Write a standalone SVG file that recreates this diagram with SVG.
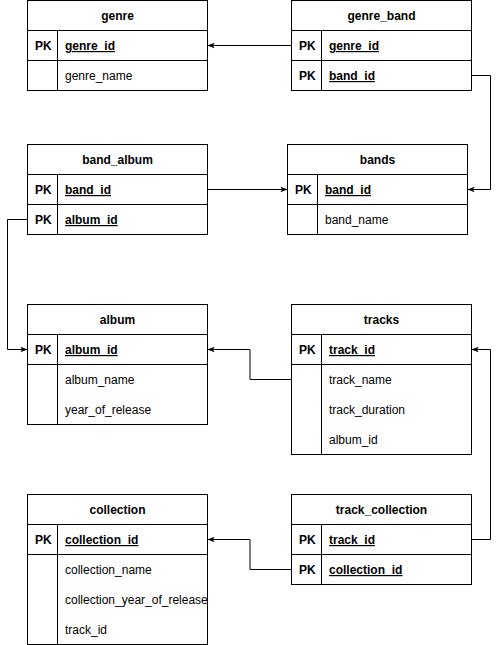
<svg xmlns="http://www.w3.org/2000/svg" width="501" height="645" viewBox="0 0 501 645">
<style>
.box{fill:#fff;stroke:#000;stroke-width:1}
.ln{fill:none;stroke:#000;stroke-width:1}
.h{font-family:"Liberation Sans",Arial,sans-serif;font-size:12px;font-weight:bold;text-anchor:middle;fill:#000}
.pk{font-family:"Liberation Sans",Arial,sans-serif;font-size:12px;font-weight:bold;fill:#000}
.k{font-family:"Liberation Sans",Arial,sans-serif;font-size:12px;font-weight:bold;text-decoration:underline;fill:#000}
.t{font-family:"Liberation Sans",Arial,sans-serif;font-size:12px;fill:#000}
.c{fill:none;stroke:#000;stroke-width:1;marker-end:url(#arr)}
</style>
<defs>
<marker id="arr" viewBox="0 0 10 8" refX="9.5" refY="4" markerWidth="7" markerHeight="6" orient="auto" markerUnits="userSpaceOnUse">
<path d="M0,0 L10,4 L0,8 L2.5,4 z" fill="#000"/>
</marker>
<clipPath id="clipc"><rect x="27.5" y="494.5" width="180" height="150"/></clipPath>
</defs>
<g id="connectors">
<path class="c" d="M291.5,45.5 H208"/>
<path class="c" d="M471.5,75.5 H490.5 V189.5 H468"/>
<path class="c" d="M207.5,189.5 H287"/>
<path class="c" d="M27.5,219.5 H7.5 V349.5 H27"/>
<path class="c" d="M291.5,379.5 H250 V349.5 H208"/>
<path class="c" d="M471.5,539.5 H490.5 V349.5 H472"/>
<path class="c" d="M291.5,569.5 H250 V539.5 H208"/>
</g>
<g id="genre">
<rect class="box" x="27.5" y="0.5" width="180" height="90"/>
<path class="ln" d="M27.5,30.5 H207.5 M27.5,60.5 H207.5 M57.5,30.5 V90.5"/>
<text class="h" x="117.5" y="20">genre</text>
<text class="pk" x="35" y="50">PK</text>
<text class="k" x="65" y="50">genre_id</text>
<text class="t" x="65" y="80">genre_name</text>
</g>
<g id="genre_band">
<rect class="box" x="291.5" y="0.5" width="180" height="90"/>
<path class="ln" d="M291.5,30.5 H471.5 M291.5,60.5 H471.5 M321.5,30.5 V90.5"/>
<text class="h" x="381.5" y="20">genre_band</text>
<text class="pk" x="299" y="50">PK</text>
<text class="k" x="329" y="50">genre_id</text>
<text class="pk" x="299" y="80">PK</text>
<text class="k" x="329" y="80">band_id</text>
</g>
<g id="band_album">
<rect class="box" x="27.5" y="144.5" width="180" height="90"/>
<path class="ln" d="M27.5,174.5 H207.5 M27.5,204.5 H207.5 M57.5,174.5 V234.5"/>
<text class="h" x="117.5" y="164">band_album</text>
<text class="pk" x="35" y="194">PK</text>
<text class="k" x="65" y="194">band_id</text>
<text class="pk" x="35" y="224">PK</text>
<text class="k" x="65" y="224">album_id</text>
</g>
<g id="bands">
<rect class="box" x="287.5" y="144.5" width="180" height="90"/>
<path class="ln" d="M287.5,174.5 H467.5 M287.5,204.5 H467.5 M317.5,174.5 V234.5"/>
<text class="h" x="377.5" y="164">bands</text>
<text class="pk" x="295" y="194">PK</text>
<text class="k" x="325" y="194">band_id</text>
<text class="t" x="325" y="224">band_name</text>
</g>
<g id="album">
<rect class="box" x="27.5" y="304.5" width="180" height="120"/>
<path class="ln" d="M27.5,334.5 H207.5 M27.5,364.5 H207.5 M57.5,334.5 V424.5"/>
<text class="h" x="117.5" y="324">album</text>
<text class="pk" x="35" y="354">PK</text>
<text class="k" x="65" y="354">album_id</text>
<text class="t" x="65" y="384">album_name</text>
<text class="t" x="65" y="414">year_of_release</text>
</g>
<g id="tracks">
<rect class="box" x="291.5" y="304.5" width="180" height="150"/>
<path class="ln" d="M291.5,334.5 H471.5 M291.5,364.5 H471.5 M321.5,334.5 V454.5"/>
<text class="h" x="381.5" y="324">tracks</text>
<text class="pk" x="299" y="354">PK</text>
<text class="k" x="329" y="354">track_id</text>
<text class="t" x="329" y="384">track_name</text>
<text class="t" x="329" y="414">track_duration</text>
<text class="t" x="329" y="444">album_id</text>
</g>
<g id="collection">
<rect class="box" x="27.5" y="494.5" width="180" height="150"/>
<path class="ln" d="M27.5,524.5 H207.5 M27.5,554.5 H207.5 M57.5,524.5 V644.5"/>
<text class="h" x="117.5" y="514">collection</text>
<text class="pk" x="35" y="544">PK</text>
<text class="k" x="65" y="544">collection_id</text>
<text class="t" x="65" y="574">collection_name</text>
<text class="t" x="65" y="604" clip-path="url(#clipc)">collection_year_of_release</text>
<text class="t" x="65" y="634">track_id</text>
</g>
<g id="track_collection">
<rect class="box" x="291.5" y="494.5" width="180" height="90"/>
<path class="ln" d="M291.5,524.5 H471.5 M291.5,554.5 H471.5 M321.5,524.5 V584.5"/>
<text class="h" x="381.5" y="514">track_collection</text>
<text class="pk" x="299" y="544">PK</text>
<text class="k" x="329" y="544">track_id</text>
<text class="pk" x="299" y="574">PK</text>
<text class="k" x="329" y="574">collection_id</text>
</g>
</svg>
